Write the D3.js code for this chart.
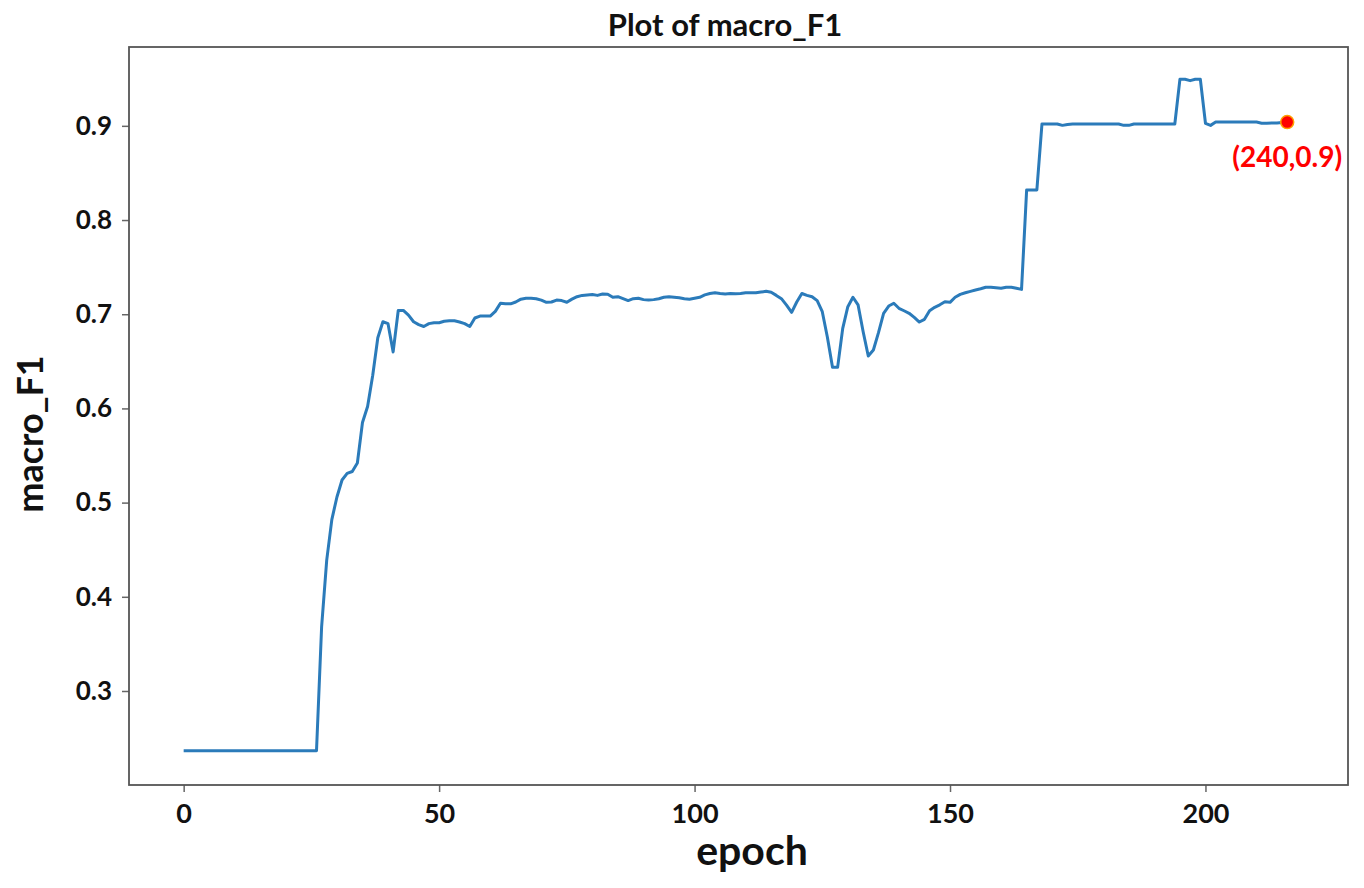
<!DOCTYPE html>
<html>
<head>
<meta charset="utf-8">
<script src="https://cdn.jsdelivr.net/npm/d3@7"></script>
<style>
    body { margin: 0; background: #fff; }
    text { font-family: Lato, "Open Sans", sans-serif; font-weight: bold; }
</style>
</head>
<body>
<div id="lineChart"></div>
<script>
// macro_F1 value per epoch (epoch 0 .. 216)
var f1Values = [
    0.2366, 0.2366, 0.2366, 0.2366, 0.2366, 0.2366, 0.2366, 0.2366, 0.2366, 0.2366,
    0.2366, 0.2366, 0.2366, 0.2366, 0.2366, 0.2366, 0.2366, 0.2366, 0.2366, 0.2366,
    0.2366, 0.2366, 0.2366, 0.2366, 0.2366, 0.2366, 0.2366,
    0.368, 0.439, 0.482, 0.506, 0.524, 0.531, 0.533, 0.542, 0.585, 0.602,
    0.635, 0.675, 0.692, 0.690, 0.660, 0.704, 0.704, 0.699, 0.692, 0.689,
    0.687, 0.690, 0.691, 0.691, 0.6925, 0.693, 0.693, 0.6917, 0.690, 0.687,
    0.696, 0.698, 0.698, 0.698, 0.703, 0.7116, 0.711, 0.711, 0.713, 0.716,
    0.717, 0.717, 0.7165, 0.715, 0.7127, 0.713, 0.715, 0.7145, 0.7127, 0.716,
    0.7186, 0.720, 0.7205, 0.721, 0.720, 0.7215, 0.7213, 0.718, 0.7186, 0.7165,
    0.7145, 0.7165, 0.717, 0.7155, 0.715, 0.7155, 0.7165, 0.718, 0.7186, 0.718,
    0.7175, 0.7165, 0.716, 0.717, 0.718, 0.7205, 0.722, 0.7228, 0.722, 0.7215,
    0.722, 0.7218, 0.722, 0.7228, 0.7228, 0.7228, 0.7235, 0.7243, 0.7233, 0.720,
    0.7165, 0.7097, 0.702, 0.713, 0.722, 0.720, 0.7186, 0.7144, 0.7027, 0.6755,
    0.6436, 0.6436, 0.685, 0.708, 0.718, 0.710, 0.6814, 0.6556, 0.662, 0.6804,
    0.701, 0.7087, 0.7116, 0.7063, 0.7037, 0.701, 0.6967, 0.6917, 0.6946, 0.7037,
    0.7073, 0.710, 0.7133, 0.7126, 0.718, 0.7211, 0.7228, 0.7243, 0.7257, 0.727,
    0.7286, 0.7286, 0.728, 0.7275, 0.7286, 0.7286, 0.7275, 0.7264,
    0.832, 0.832, 0.832, 0.902, 0.902, 0.902, 0.902, 0.9005, 0.9015, 0.902,
    0.902, 0.902, 0.902, 0.902, 0.902, 0.902, 0.902, 0.902, 0.902, 0.9005,
    0.9005, 0.902, 0.902, 0.902, 0.902, 0.902, 0.902, 0.902, 0.902, 0.902,
    0.9494, 0.9494, 0.948, 0.9494, 0.9494, 0.9027, 0.9005, 0.904, 0.904, 0.904,
    0.904, 0.904, 0.904, 0.904, 0.904, 0.904, 0.9027, 0.9027, 0.903, 0.903,
    0.9035, 0.904
];

// tick labels for both axes
var xTicks = [0, 50, 100, 150, 200];
var yTicks = [0.3, 0.4, 0.5, 0.6, 0.7, 0.8, 0.9];

// the annotated last point
var markLabel = "(240,0.9)";

var width = 1364,
    height = 888;
var margin = {top: 47, right: 16, bottom: 103, left: 129};

var svg = d3.select("#lineChart")
    .append("svg")
        .attr("width", width)
        .attr("height", height);

// epoch index for each value
var points = f1Values.map(function(v, i) { return {epoch: i, f1: v}; });

// scales (domain padded like matplotlib's default margins)
var x = d3.scaleLinear()
    .domain([-10.7, 227.9])
    .range([margin.left, width - margin.right]);

var y = d3.scaleLinear()
    .domain([0.2002, 0.9837])
    .range([height - margin.bottom, margin.top]);

// x axis
svg.append("g")
    .attr("transform", `translate(0,${y.range()[0]})`)
    .call(d3.axisBottom(x).tickValues(xTicks).tickSize(7).tickPadding(12).tickFormat(d3.format("d")))
    .call(g => g.select(".domain").remove())
    .call(g => g.selectAll("line").attr("stroke", "#666").attr("stroke-width", 1.5))
    .call(g => g.selectAll("text").attr("fill", "#111").style("font-size", "27px"));

// y axis
svg.append("g")
    .attr("transform", `translate(${x.range()[0]},0)`)
    .call(d3.axisLeft(y).tickValues(yTicks).tickSize(7).tickPadding(10).tickFormat(d3.format(".1f")))
    .call(g => g.select(".domain").remove())
    .call(g => g.selectAll("line").attr("stroke", "#666").attr("stroke-width", 1.5))
    .call(g => g.selectAll("text").attr("fill", "#111").style("font-size", "26px"));

// frame around the plot
svg.append("rect")
    .attr("x", x.range()[0])
    .attr("y", y.range()[1])
    .attr("width", x.range()[1] - x.range()[0])
    .attr("height", y.range()[0] - y.range()[1])
    .attr("fill", "none")
    .attr("stroke", "#555")
    .attr("stroke-width", 1.8);

// the line
var line = d3.line()
    .x(function(d) { return x(d.epoch); })
    .y(function(d) { return y(d.f1); });

svg.append("path")
    .datum(points)
    .attr("d", line)
    .attr("fill", "none")
    .attr("stroke", "#2b7bba")
    .attr("stroke-width", 3)
    .attr("stroke-linejoin", "round");

// red marker on the last point
var last = points[points.length - 1];
svg.append("circle")
    .attr("cx", x(last.epoch))
    .attr("cy", y(last.f1))
    .attr("r", 6.5)
    .attr("fill", "#ff0000")
    .attr("stroke", "#ffa000")
    .attr("stroke-width", 1.5);

svg.append("text")
    .attr("x", x(last.epoch))
    .attr("y", y(last.f1) + 45)
    .attr("text-anchor", "middle")
    .attr("fill", "#ff0000")
    .style("font-size", "28px")
    .text(markLabel);

// title
svg.append("text")
    .attr("x", 725)
    .attr("y", 36)
    .attr("text-anchor", "middle")
    .attr("fill", "#111")
    .style("font-size", "31px")
    .text("Plot of macro_F1");

// axis labels
svg.append("text")
    .attr("x", 752)
    .attr("y", 865)
    .attr("text-anchor", "middle")
    .attr("fill", "#111")
    .style("font-size", "41px")
    .text("epoch");

svg.append("text")
    .attr("transform", "translate(43,434) rotate(-90)")
    .attr("text-anchor", "middle")
    .attr("fill", "#111")
    .style("font-size", "36px")
    .text("macro_F1");
</script>
</body>
</html>
